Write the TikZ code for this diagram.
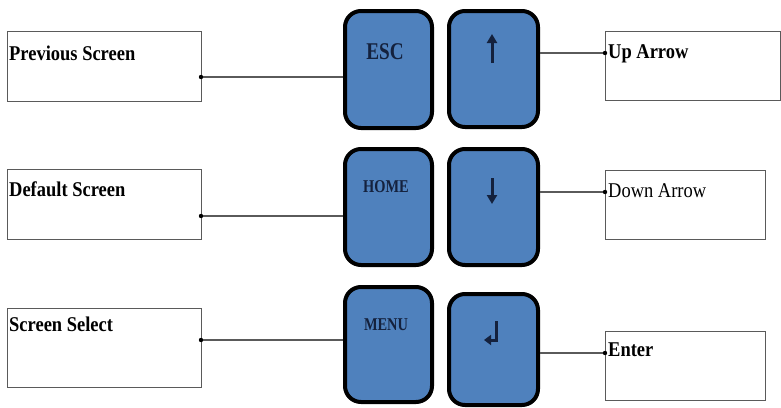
\documentclass[tikz,border=0pt]{standalone}
\usepackage{fontspec}
\setmainfont{Liberation Serif}
\newfontfamily\lblfont[FakeStretch=0.88]{Liberation Serif}
\newfontfamily\keyfont[FakeStretch=0.8]{Liberation Serif}
\usetikzlibrary{arrows.meta}
\definecolor{keyblue}{HTML}{4F81BD}
\definecolor{keytext}{HTML}{14213D}
\definecolor{boxgray}{HTML}{5A5A5A}
\tikzset{
  keybox/.style={draw=black, line width=4pt, fill=keyblue, rounded corners=16pt,
    anchor=north west, inner sep=0pt},
  lbox/.style={draw=boxgray, line width=1.2pt, fill=white, anchor=north west, inner sep=0pt},
  lbltxt/.style={anchor=base west, inner sep=0pt, font=\lblfont\fontsize{21}{21}\selectfont\bfseries},
  lbltxtreg/.style={anchor=base west, inner sep=0pt, font=\lblfont\fontsize{21}{21}\selectfont},
  keylbl/.style={inner sep=0pt, text=keytext, font=\keyfont\bfseries},
  conn/.style={draw=boxgray, line width=1.2pt},
  dotc/.style={fill=black},
  keyarrow/.style={draw=keytext, line width=3pt, -{Triangle[width=10pt,length=9pt]}}
}
\begin{document}
\begin{tikzpicture}[x=1pt,y=-1pt]
\useasboundingbox (0,0) rectangle (781,407);
% left boxes
\node[lbox, minimum width=194pt, minimum height=70pt] (ps) at (7,31) {};
\node[lbox, minimum width=194pt, minimum height=70pt] (ds) at (7,169) {};
\node[lbox, minimum width=194pt, minimum height=79pt] (ss) at (7,308) {};
\node[lbltxt] (ps-t) at (9,60) {Previous Screen};
\node[lbltxt] (ds-t) at (9,196) {Default Screen};
\node[lbltxt] (ss-t) at (9,331) {Screen Select};
% right boxes
\node[lbox, minimum width=175pt, minimum height=69pt] (ua) at (605,31) {};
\node[lbox, minimum width=160pt, minimum height=69pt] (da) at (605,170) {};
\node[lbox, minimum width=160pt, minimum height=69pt] (en) at (605,331) {};
\node[lbltxt] (ua-t) at (608,58) {Up Arrow};
\node[lbltxtreg] (da-t) at (608,197) {Down Arrow};
\node[lbltxt] (en-t) at (608,356) {Enter};
% keys
\node[keybox, minimum width=87pt, minimum height=117pt] (esc) at (343,9) {};
\node[keybox, minimum width=89pt, minimum height=116pt] (up) at (447,9) {};
\node[keybox, minimum width=87pt, minimum height=116pt] (home) at (343,147) {};
\node[keybox, minimum width=89pt, minimum height=116pt] (down) at (447,147) {};
\node[keybox, minimum width=87pt, minimum height=115pt] (menu) at (343,285) {};
\node[keybox, minimum width=89pt, minimum height=111pt] (enter) at (447,292) {};
% key labels
\node[keylbl, font=\keyfont\bfseries\fontsize{24}{24}\selectfont] (esc-t) at (385,52) {ESC};
\node[keylbl, font=\keyfont\bfseries\fontsize{18}{18}\selectfont] (home-t) at (386,187) {HOME};
\node[keylbl, font=\keyfont\bfseries\fontsize{18}{18}\selectfont] (menu-t) at (386,325) {MENU};
% key arrows
\draw[keyarrow] (492,63) -- (492,34);
\draw[keyarrow] (492,178) -- (492,204);
\draw[keyarrow, -{Triangle[width=10pt,length=7pt]}] (496,321) -- (496,340) -- (484,340);
% connectors
\coordinate (c1) at (201,77);
\coordinate (c2) at (201,216);
\coordinate (c3) at (201,340);
\coordinate (c4) at (605,53);
\coordinate (c5) at (605,192);
\coordinate (c6) at (605,353);
\draw[conn] (c1) -- (c1 -| esc.west);
\draw[conn] (c2) -- (c2 -| home.west);
\draw[conn] (c3) -- (c3 -| menu.west);
\draw[conn] (c4) -- (c4 -| up.east);
\draw[conn] (c5) -- (c5 -| down.east);
\draw[conn] (c6) -- (c6 -| enter.east);
\foreach \c in {c1,c2,c3,c4,c5,c6} \fill[dotc] (\c) circle (2.2pt);
\end{tikzpicture}
\end{document}
